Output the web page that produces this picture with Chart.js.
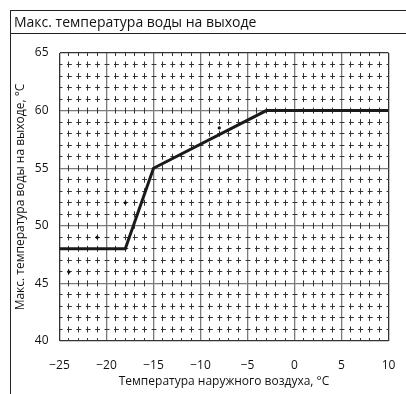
<!DOCTYPE html>
<html>
<head>
<meta charset="utf-8">
<script src="https://cdn.jsdelivr.net/npm/chart.js@4.4.0/dist/chart.umd.min.js"></script>
<style>
  html, body { margin: 0; padding: 0; background: #fff; }
  .wrap { position: relative; width: 406px; height: 394px; overflow: hidden; font-family: "Open Sans", sans-serif; }
  canvas { position: absolute; left: 0; top: 0; }
  .frame-top { position: absolute; left: 10px; top: 10px; right: 0; height: 0; border-top: 1px solid #222; }
  .frame-sep { position: absolute; left: 10px; top: 33px; right: 0; height: 0; border-top: 1px solid #222; }
  .frame-left { position: absolute; left: 10px; top: 10px; bottom: 0; width: 0; border-left: 1px solid #222; }
  .title { position: absolute; left: 14px; top: 12px; font-size: 14px; color: #111; line-height: 20px; }
</style>
</head>
<body>
<div class="wrap">
  <canvas id="myChart" width="406" height="394"></canvas>
  <div class="frame-top"></div>
  <div class="frame-sep"></div>
  <div class="frame-left"></div>
  <div class="title">Макс. температура воды на выходе</div>
</div>
<script>
// kink points of the max outlet water temperature curve
const outdoorTemp = [-25, -18, -15, -3, 10];
const maxWaterTemp = [48, 48, 55, 60, 60];

// small stray dots seen on the original sheet
const dotX = [-24, -21, -18, -8];
const dotY = [46, 49, 52, 58.5];

const xMin = -25, xMax = 10;
const yMin = 40, yMax = 65;

const minus = v => String(v).replace('-', '\u2212');
const font = { family: '"Open Sans", sans-serif', size: 12 };

const lineData = outdoorTemp.map((x, i) => ({ x: x, y: maxWaterTemp[i] }));
const dotData = dotX.map((x, i) => ({ x: x, y: dotY[i] }));

const majorColor = (min, max) => ctx => {
  const v = ctx.tick && ctx.tick.value;
  return (v === min || v === max) ? '#333' : '#7a7a7a';
};
const minorColor = ctx => {
  const v = ctx.tick && ctx.tick.value;
  return (v % 5 === 0) ? 'rgba(0,0,0,0)' : '#333';
};

// keep the minor dashes centred on the crossings, whatever the plot size
const dashFit = {
  id: 'dashFit',
  afterLayout(chart) {
    const a = chart.chartArea;
    const stepX = (a.right - a.left) / (xMax - xMin);
    const stepY = (a.bottom - a.top) / (yMax - yMin);
    const xm = chart.scales.xMinor.options.border;
    const ym = chart.scales.yMinor.options.border;
    xm.dash = [stepY * 0.52, stepY * 0.48];
    xm.dashOffset = stepY * 0.26;
    ym.dash = [stepX * 0.52, stepX * 0.48];
    ym.dashOffset = stepX * 0.26;
  }
};

const ctx = document.getElementById('myChart').getContext('2d');
new Chart(ctx, {
  type: 'scatter',
  data: {
    datasets: [
      {
        data: lineData,
        showLine: true,
        borderColor: '#1a1a1a',
        borderWidth: 3,
        pointRadius: 0,
        tension: 0,
        xAxisID: 'x',
        yAxisID: 'y'
      },
      {
        data: dotData,
        showLine: false,
        backgroundColor: '#111',
        borderWidth: 0,
        pointRadius: 1.6,
        xAxisID: 'x',
        yAxisID: 'y'
      }
    ]
  },
  options: {
    responsive: false,
    animation: false,
    layout: { padding: { left: 12, top: 53, right: 17.5, bottom: 0 } },
    plugins: { legend: { display: false }, tooltip: { enabled: false } },
    scales: {
      x: {
        type: 'linear',
        position: 'bottom',
        min: xMin, max: xMax,
        ticks: { stepSize: 5, padding: 2, color: '#111', font: font, callback: minus, autoSkip: false, maxRotation: 0 },
        grid: { color: majorColor(xMin, xMax), lineWidth: 1.3, drawTicks: true, tickLength: 15, tickColor: 'rgba(0,0,0,0)' },
        border: { display: false },
        title: { display: true, text: 'Температура наружного воздуха, °C', color: '#111', font: font, padding: { top: 0, bottom: 5 } },
        afterFit: s => { s.height = 53; }
      },
      y: {
        type: 'linear',
        position: 'left',
        min: yMin, max: yMax,
        ticks: { stepSize: 5, padding: 11, color: '#111', font: font },
        grid: { color: majorColor(yMin, yMax), lineWidth: 1.3, drawTicks: false },
        border: { display: false },
        title: { display: true, text: 'Макс. температура воды на выходе, °C', color: '#111', font: font, padding: { top: 1, bottom: 0 } },
        afterFit: s => { s.width = 47.5; }
      },
      xMinor: {
        type: 'linear',
        position: 'bottom',
        min: xMin, max: xMax,
        ticks: { stepSize: 1, display: false, autoSkip: false, padding: 0 },
        grid: { color: minorColor, lineWidth: 1, drawTicks: false },
        border: { display: false, dash: [6, 5.52], dashOffset: 3 },
        afterFit: s => { s.height = 0; }
      },
      yMinor: {
        type: 'linear',
        position: 'left',
        min: yMin, max: yMax,
        ticks: { stepSize: 1, display: false, autoSkip: false, padding: 0 },
        grid: { color: minorColor, lineWidth: 1, drawTicks: false },
        border: { display: false, dash: [4.9, 4.5], dashOffset: 2.45 },
        afterFit: s => { s.width = 0; }
      }
    }
  },
  plugins: [dashFit]
});
</script>
</body>
</html>
